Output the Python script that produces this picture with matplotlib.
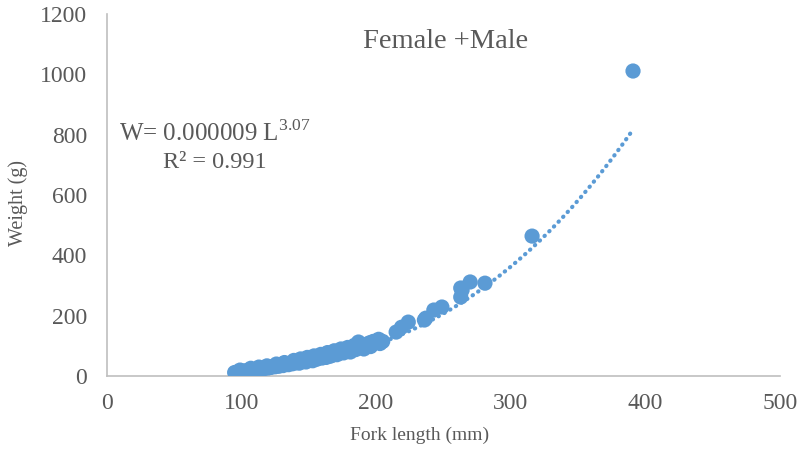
import matplotlib.pyplot as plt
import numpy as np

plt.rcParams['font.family'] = ['Liberation Serif', 'DejaVu Serif']
plt.rcParams['mathtext.fontset'] = 'custom'
plt.rcParams['mathtext.rm'] = 'Liberation Serif'

# fork length (mm) and weight (g), both sexes pooled
length = [95, 97, 98, 100, 101, 102, 104, 105, 106, 108,
          110, 111, 112, 114, 115, 117, 118, 120, 121, 122,
          124, 125, 127, 128, 130, 131, 133, 135, 136, 138,
          140, 141, 143, 145, 146, 148, 150, 151, 153, 155,
          156, 158, 160, 161, 163, 165, 166, 168, 170, 171,
          173, 175, 176, 178, 180, 181, 183, 185, 186, 188,
          190, 191, 193, 195, 196, 198, 200, 201, 203, 205,
          99, 107, 113, 119, 126, 132, 139, 144, 149, 154,
          159, 164, 169, 174, 179, 184, 187, 192, 197, 202,
          215, 219, 224, 236, 237, 243, 249, 263, 263, 264,
          270, 281, 316, 391]
weight = [12, 14, 13, 16, 15, 17, 18, 16, 19, 21,
          20, 23, 22, 24, 26, 25, 28, 27, 30, 29,
          32, 31, 34, 33, 37, 35, 39, 38, 42, 41,
          44, 46, 43, 48, 50, 47, 52, 55, 51, 58,
          56, 61, 60, 64, 62, 68, 66, 70, 73, 71,
          76, 79, 77, 82, 85, 80, 97, 88, 92, 95,
          100, 90, 105, 110, 98, 115, 112, 118, 108, 115,
          20, 26, 30, 34, 40, 45, 52, 57, 62, 67,
          72, 78, 84, 90, 95, 102, 113, 104, 112, 122,
          146, 162, 179, 186, 192, 219, 229, 262, 292, 285,
          312, 308, 464, 1011]

# power fit W = a * L^b
a = 0.000009
b = 3.07
r2 = 0.991

blue = '#5B9BD5'
grey = '#595959'

fig = plt.figure(figsize=(8.03, 4.51), dpi=100)
ax = fig.add_axes([0.133, 0.166, 0.838, 0.803])

lf = np.linspace(min(length), max(length), 200)
ax.plot(lf, a * lf ** b, color=blue, lw=3, linestyle=(0, (0.1, 1.5)),
        dash_capstyle='round', zorder=2)
ax.scatter(length, weight, s=120, color=blue, edgecolors='none', zorder=3)

ax.set_xlim(0, 500)
ax.set_ylim(0, 1200)
ax.set_xticks(np.arange(0, 501, 100))
ax.set_yticks(np.arange(0, 1201, 200))
ax.tick_params(length=0, labelsize=17, colors=grey)
ax.tick_params(axis='x', pad=12)
ax.tick_params(axis='y', pad=14)
for s in ['top', 'right']:
    ax.spines[s].set_visible(False)
for s in ['left', 'bottom']:
    ax.spines[s].set_color('#BFBFBF')
    ax.spines[s].set_linewidth(1.2)

ax.set_xlabel('Fork length (mm)', fontsize=14, color=grey)
ax.set_ylabel('Weight (g)', fontsize=14.5, color=grey)
ax.xaxis.set_label_coords(0.465, -0.14)
ax.yaxis.set_label_coords(-0.117, 0.478)

ax.text(252, 1108, 'Female +Male', fontsize=20.5, color=grey, ha='center', va='center')
ax.text(80, 805, 'W= 0.000009 L$^{\\mathregular{%.2f}}$' % b, fontsize=18,
        color=grey, ha='center', va='center')
ax.text(80, 709, 'R² = %.3f' % r2, fontsize=17.5, color=grey, ha='center', va='center')

fig.savefig('out.png', dpi=100)
